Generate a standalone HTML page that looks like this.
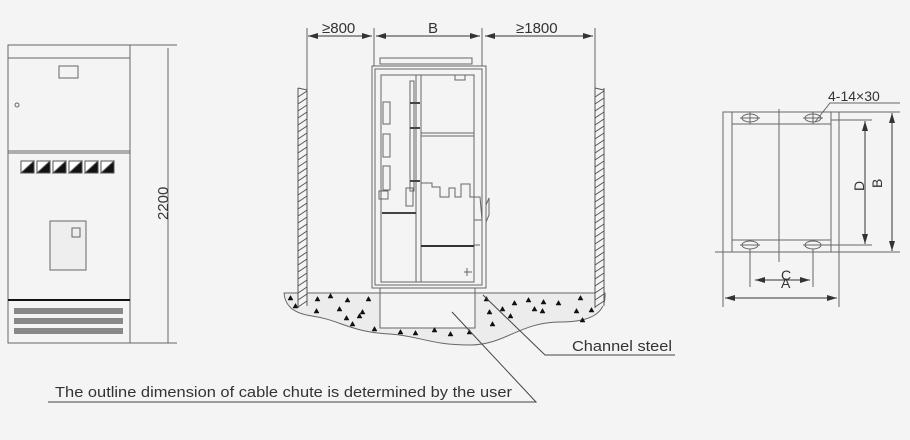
<!DOCTYPE html>
<html><head><meta charset="utf-8"><style>
html,body{margin:0;padding:0;background:#f4f4f4;width:910px;height:440px;overflow:hidden}
svg{display:block}
text{font-family:"Liberation Sans",sans-serif;fill:#333}
.t{fill:#111;stroke:#111;stroke-width:0.5}
</style></head><body>
<svg width="910" height="440" viewBox="0 0 910 440" xmlns="http://www.w3.org/2000/svg">
<defs>
<marker id="ar" markerWidth="10" markerHeight="6" refX="10" refY="3" orient="auto" markerUnits="userSpaceOnUse">
<path d="M0,0 L10,3 L0,6 Z" fill="#333"/></marker>
<marker id="al" markerWidth="10" markerHeight="6" refX="0" refY="3" orient="auto" markerUnits="userSpaceOnUse">
<path d="M10,0 L0,3 L10,6 Z" fill="#333"/></marker>
</defs>
<g fill="none" stroke="#666" stroke-width="1">
<rect x="8" y="45" width="122" height="298"/>
<line x1="8" y1="58" x2="130" y2="58"/>
<line x1="8" y1="151" x2="130" y2="151"/>
<line x1="8" y1="153" x2="130" y2="153"/>
<rect x="59" y="66" width="19" height="12"/>
<circle cx="17" cy="105" r="2"/>
<rect x="50" y="221" width="36" height="49" fill="#eee"/>
<rect x="72" y="228" width="8" height="9"/>
<line x1="130" y1="45" x2="177" y2="45"/>
<line x1="130" y1="343" x2="177" y2="343"/>
<line x1="168" y1="48" x2="168" y2="343"/>
</g>
<line x1="8" y1="300" x2="130" y2="300" stroke="#111" stroke-width="2"/>
<g stroke="#555">
<rect x="21" y="161" width="13" height="12" fill="#fff"/><path d="M21,173 L34,161 L34,173Z" fill="#111"/>
<rect x="37" y="161" width="13" height="12" fill="#fff"/><path d="M37,173 L50,161 L50,173Z" fill="#111"/>
<rect x="53" y="161" width="13" height="12" fill="#fff"/><path d="M53,173 L66,161 L66,173Z" fill="#111"/>
<rect x="69" y="161" width="13" height="12" fill="#fff"/><path d="M69,173 L82,161 L82,173Z" fill="#111"/>
<rect x="85" y="161" width="13" height="12" fill="#fff"/><path d="M85,173 L98,161 L98,173Z" fill="#111"/>
<rect x="101" y="161" width="13" height="12" fill="#fff"/><path d="M101,173 L114,161 L114,173Z" fill="#111"/>
</g>
<g fill="#888">
<rect x="14" y="308" width="109" height="6"/>
<rect x="14" y="318" width="109" height="6"/>
<rect x="14" y="328" width="109" height="6"/>
</g>
<text x="0" y="0" font-size="15" transform="translate(168,220) rotate(-90)">2200</text>

<path d="M284,293 L605,293 C606,310 596,322 560,322 C520,322 505,345 470,345 C430,345 420,336 390,334 C350,332 340,320 312,316 C292,313 285,305 284,293Z" fill="#ececec" stroke="#666"/>
<rect x="380" y="293" width="95" height="35" fill="#f4f4f4" stroke="#666"/>
<polygon class="t" points="288,300 290.5,295.5 293,300"/>
<polygon class="t" points="301,303 303.5,298.5 306,303"/>
<polygon class="t" points="315,301 317.5,296.5 320,301"/>
<polygon class="t" points="328,298 330.5,293.5 333,298"/>
<polygon class="t" points="293,308 295.5,303.5 298,308"/>
<polygon class="t" points="314,313 316.5,308.5 319,313"/>
<polygon class="t" points="337,311 339.5,306.5 342,311"/>
<polygon class="t" points="344,320 346.5,315.5 349,320"/>
<polygon class="t" points="357,318 359.5,313.5 362,318"/>
<polygon class="t" points="345,302 347.5,297.5 350,302"/>
<polygon class="t" points="366,301 368.5,296.5 371,301"/>
<polygon class="t" points="372,331 374.5,326.5 377,331"/>
<polygon class="t" points="398,334 400.5,329.5 403,334"/>
<polygon class="t" points="413,335 415.5,330.5 418,335"/>
<polygon class="t" points="432,332 434.5,327.5 437,332"/>
<polygon class="t" points="448,336 450.5,331.5 453,336"/>
<polygon class="t" points="467,334 469.5,329.5 472,334"/>
<polygon class="t" points="484,301 486.5,296.5 489,301"/>
<polygon class="t" points="487,314 489.5,309.5 492,314"/>
<polygon class="t" points="500,311 502.5,306.5 505,311"/>
<polygon class="t" points="512,305 514.5,300.5 517,305"/>
<polygon class="t" points="526,302 528.5,297.5 531,302"/>
<polygon class="t" points="541,304 543.5,299.5 546,304"/>
<polygon class="t" points="556,305 558.5,300.5 561,305"/>
<polygon class="t" points="532,311 534.5,306.5 537,311"/>
<polygon class="t" points="508,318 510.5,313.5 513,318"/>
<polygon class="t" points="490,326 492.5,321.5 495,326"/>
<polygon class="t" points="578,300 580.5,295.5 583,300"/>
<polygon class="t" points="574,313 576.5,308.5 579,313"/>
<polygon class="t" points="589,312 591.5,307.5 594,312"/>
<polygon class="t" points="540,313 542.5,308.5 545,313"/>
<polygon class="t" points="580,322 582.5,317.5 585,322"/>
<polygon class="t" points="350,326 352.5,321.5 355,326"/>
<polygon class="t" points="360,314 362.5,309.5 365,314"/>
<rect x="298" y="90" width="9" height="216" fill="#f4f4f4"/>
<rect x="595" y="90" width="9" height="216" fill="#f4f4f4"/>
<g stroke="#555" stroke-width="1">
<line x1="298" y1="88" x2="298" y2="308"/><line x1="307" y1="88" x2="307" y2="306"/><line x1="298" y1="88" x2="307" y2="90"/>
<line x1="595" y1="88" x2="595" y2="308"/><line x1="604" y1="88" x2="604" y2="306"/><line x1="595" y1="88" x2="604" y2="90"/>
<path d="M298,97 L307,91 M298,104 L307,98 M298,111 L307,105 M298,118 L307,112 M298,125 L307,119 M298,132 L307,126 M298,139 L307,133 M298,146 L307,140 M298,153 L307,147 M298,160 L307,154 M298,167 L307,161 M298,174 L307,168 M298,181 L307,175 M298,188 L307,182 M298,195 L307,189 M298,202 L307,196 M298,209 L307,203 M298,216 L307,210 M298,223 L307,217 M298,230 L307,224 M298,237 L307,231 M298,244 L307,238 M298,251 L307,245 M298,258 L307,252 M298,265 L307,259 M298,272 L307,266 M298,279 L307,273 M298,286 L307,280 M298,293 L307,287 M298,300 L307,294 M298,307 L307,301"/>
</g>
<g transform="translate(297,0)" stroke="#555" stroke-width="1">
<path d="M298,97 L307,91 M298,104 L307,98 M298,111 L307,105 M298,118 L307,112 M298,125 L307,119 M298,132 L307,126 M298,139 L307,133 M298,146 L307,140 M298,153 L307,147 M298,160 L307,154 M298,167 L307,161 M298,174 L307,168 M298,181 L307,175 M298,188 L307,182 M298,195 L307,189 M298,202 L307,196 M298,209 L307,203 M298,216 L307,210 M298,223 L307,217 M298,230 L307,224 M298,237 L307,231 M298,244 L307,238 M298,251 L307,245 M298,258 L307,252 M298,265 L307,259 M298,272 L307,266 M298,279 L307,273 M298,286 L307,280 M298,293 L307,287 M298,300 L307,294 M298,307 L307,301"/>
</g>
<g fill="none" stroke="#666">
<line x1="307" y1="28" x2="307" y2="88"/>
<line x1="374" y1="28" x2="374" y2="66"/>
<line x1="482" y1="28" x2="482" y2="66"/>
<line x1="595" y1="28" x2="595" y2="88"/>
</g>
<g stroke="#333">
<line x1="308" y1="36" x2="372" y2="36" marker-start="url(#al)" marker-end="url(#ar)"/>
<line x1="376" y1="36" x2="480" y2="36" marker-start="url(#al)" marker-end="url(#ar)"/>
<line x1="485" y1="36" x2="593" y2="36" marker-start="url(#al)" marker-end="url(#ar)"/>
</g>
<text x="322" y="33" font-size="15">≥800</text>
<text x="428" y="33" font-size="15">B</text>
<text x="516" y="33" font-size="15">≥1800</text>
<g fill="none" stroke="#666">
<rect x="380" y="58" width="92" height="6"/>
<rect x="372" y="66" width="114" height="222"/>
<rect x="375" y="69" width="107" height="216"/>
<rect x="381" y="75" width="93" height="207"/>
<line x1="416" y1="75" x2="416" y2="282"/>
<line x1="421" y1="75" x2="421" y2="282"/>
<line x1="421" y1="133" x2="474" y2="133"/>
<line x1="421" y1="136" x2="474" y2="136"/>
<rect x="455" y="75" width="10" height="5"/>
<path d="M421,183 L432,183 L432,187 L440,187 L440,197 L449,197 L449,188 L455,188 L455,197 L461,197 L461,184 L470,184 L470,197 L480,197 L482,220 L474,220 L474,245 L480,245"/>
<path d="M486,205 L489,198 L489,215 L486,222"/>
<rect x="410" y="81" width="4" height="110"/>
<rect x="406" y="188" width="7" height="18"/>
<rect x="383" y="102" width="7" height="22"/>
<rect x="383" y="134" width="7" height="23"/>
<rect x="383" y="166" width="7" height="24"/>
<rect x="379" y="191" width="9" height="8"/>
<line x1="464" y1="272" x2="472" y2="272"/><line x1="467" y1="268" x2="467" y2="276"/>
<path d="M372,288 L380,288 L380,293 M486,288 L475,288 L475,293"/>
</g>
<line x1="382" y1="213" x2="416" y2="213" stroke="#444" stroke-width="2"/>
<line x1="421" y1="246" x2="474" y2="246" stroke="#333" stroke-width="2"/>
<line x1="410" y1="103" x2="420" y2="103" stroke="#444" stroke-width="2"/>
<line x1="410" y1="128" x2="420" y2="128" stroke="#444" stroke-width="2"/>
<line x1="410" y1="181" x2="420" y2="181" stroke="#444" stroke-width="2"/>
<g stroke="#444" fill="none">
<path d="M483,295 L545,355 L675,355"/>
<path d="M452,312 L536,402 L48,402"/>
</g>
<text x="572" y="351" font-size="15" textLength="100" lengthAdjust="spacingAndGlyphs">Channel steel</text>
<text x="55" y="397" font-size="15" textLength="457" lengthAdjust="spacingAndGlyphs">The outline dimension of cable chute is determined by the user</text>

<g fill="none" stroke="#666">
<rect x="723" y="112" width="116" height="140"/>
<rect x="732" y="112" width="99" height="140"/>
<line x1="732" y1="124" x2="831" y2="124"/>
<line x1="732" y1="240" x2="831" y2="240"/>
<line x1="779" y1="109" x2="779" y2="262"/>
<ellipse cx="750" cy="118" rx="8" ry="4"/><line x1="740" y1="118" x2="760" y2="118"/><line x1="750" y1="112" x2="750" y2="124"/>
<ellipse cx="813" cy="118" rx="8" ry="4"/><line x1="803" y1="118" x2="823" y2="118"/><line x1="813" y1="112" x2="813" y2="124"/>
<ellipse cx="750" cy="245" rx="8" ry="4"/><line x1="740" y1="245" x2="760" y2="245"/>
<ellipse cx="813" cy="245" rx="8" ry="4"/><line x1="803" y1="245" x2="823" y2="245"/>
<line x1="839" y1="112" x2="900" y2="112"/>
<line x1="715" y1="252" x2="900" y2="252"/>
<line x1="831" y1="120" x2="872" y2="120"/>
<line x1="821" y1="245" x2="872" y2="245"/>
<line x1="750" y1="249" x2="750" y2="287"/>
<line x1="813" y1="249" x2="813" y2="287"/>
<line x1="723" y1="252" x2="723" y2="307"/>
<line x1="839" y1="252" x2="839" y2="307"/>
<path d="M815,122 L830,103 L900,103"/>
</g>
<g stroke="#333">
<line x1="865" y1="121" x2="865" y2="244" marker-start="url(#al)" marker-end="url(#ar)"/>
<line x1="892" y1="113" x2="892" y2="251" marker-start="url(#al)" marker-end="url(#ar)"/>
<line x1="755" y1="280" x2="810" y2="280" marker-start="url(#al)" marker-end="url(#ar)"/>
<line x1="725" y1="298" x2="837" y2="298" marker-start="url(#al)" marker-end="url(#ar)"/>
</g>
<text x="828" y="101" font-size="14">4-14×30</text>
<text x="0" y="0" font-size="14" transform="translate(864,191) rotate(-90)">D</text>
<text x="0" y="0" font-size="14" transform="translate(882,188) rotate(-90)">B</text>
<text x="781" y="280" font-size="14">C</text>
<text x="781" y="288" font-size="14">A</text>
</svg>
</body></html>
